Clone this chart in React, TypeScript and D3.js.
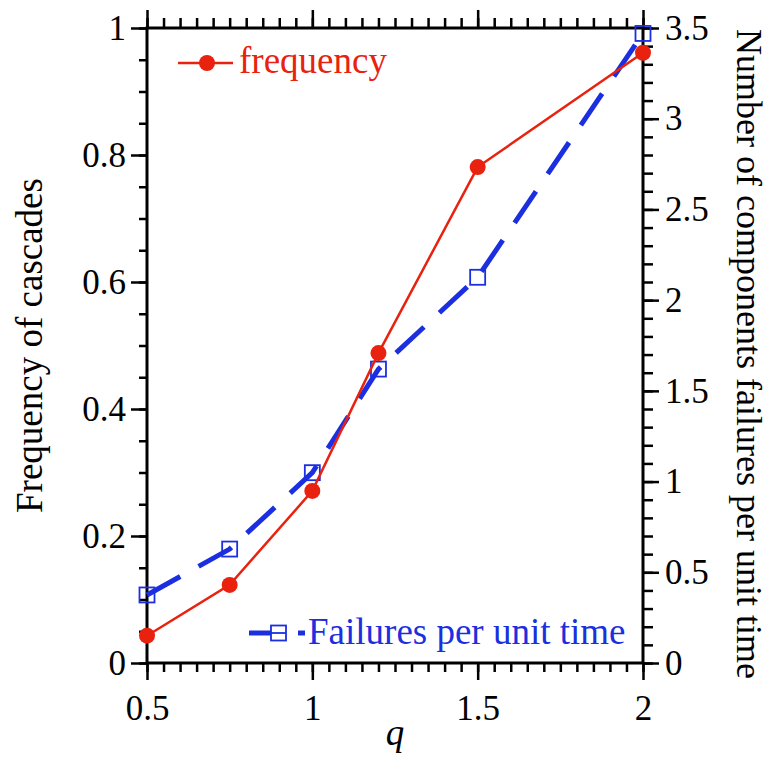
import * as d3 from "d3";
import { useEffect, useRef } from "react";

const qValues = [0.5, 0.75, 1, 1.2, 1.5, 2];
const frequency = [0.043, 0.123, 0.271, 0.488, 0.781, 0.961];
const failures = [0.375, 0.628, 1.049, 1.62, 2.126, 3.47];

const xTicks = [0.5, 1, 1.5, 2];
const leftTicks = [0, 0.2, 0.4, 0.6, 0.8, 1];
const rightTicks = [0, 0.5, 1, 1.5, 2, 2.5, 3, 3.5];

const RED = "#e8220e";
const BLUE = "#1b2fe0";
const FONT = "Liberation Serif";
const TICK_FS = 35;
const LABEL_FS = 37;

const App = () => {
    const chartRef = useRef(null);

    useEffect(() => {
        const svg = d3.select(chartRef.current);
        svg.selectAll("*").remove();
        svg.attr("font-family", FONT);

        const left = 147, right = 643, top = 28, bottom = 663;

        const x = d3.scaleLinear().domain([0.5, 2]).range([left, right]);
        const yL = d3.scaleLinear().domain([0, 1]).range([bottom, top]);
        const yR = d3.scaleLinear().domain([0, 3.5]).range([bottom, top]);

        const minorX = d3.range(0.5, 2.0001, 0.05);
        const minorL = d3.range(0, 1.0001, 0.05);
        const minorR = d3.range(0, 3.5001, 0.1);

        const axisStyle = (g) => {
            g.attr("font-family", FONT).attr("font-size", TICK_FS);
            g.select(".domain").remove();
            g.selectAll("line").attr("stroke", "#000").attr("stroke-width", 2.5);
            g.selectAll("text").attr("fill", "#000");
        };

        // minor ticks
        svg.append("g").attr("transform", `translate(0,${bottom})`)
            .call(d3.axisBottom(x).tickValues(minorX).tickSize(9).tickFormat(() => ""))
            .call(axisStyle);
        svg.append("g").attr("transform", `translate(0,${top})`)
            .call(d3.axisTop(x).tickValues(minorX).tickSize(10).tickFormat(() => ""))
            .call(axisStyle);
        svg.append("g").attr("transform", `translate(${left},0)`)
            .call(d3.axisLeft(yL).tickValues(minorL).tickSize(8).tickFormat(() => ""))
            .call(axisStyle);
        svg.append("g").attr("transform", `translate(${right},0)`)
            .call(d3.axisRight(yR).tickValues(minorR).tickSize(10).tickFormat(() => ""))
            .call(axisStyle);

        // major ticks
        svg.append("g").attr("transform", `translate(0,${bottom})`)
            .call(d3.axisBottom(x).tickValues(xTicks).tickSize(17).tickPadding(15).tickFormat(d3.format("")))
            .call(axisStyle);
        svg.append("g").attr("transform", `translate(0,${top})`)
            .call(d3.axisTop(x).tickValues(xTicks).tickSize(18).tickFormat(() => ""))
            .call(axisStyle);
        svg.append("g").attr("transform", `translate(${left},0)`)
            .call(d3.axisLeft(yL).tickValues(leftTicks).tickSize(16).tickPadding(5).tickFormat(d3.format("")))
            .call(axisStyle);
        svg.append("g").attr("transform", `translate(${right},0)`)
            .call(d3.axisRight(yR).tickValues(rightTicks).tickSize(16).tickPadding(6).tickFormat(d3.format("")))
            .call(axisStyle);

        // frame
        svg.append("rect")
            .attr("x", left).attr("y", top)
            .attr("width", right - left).attr("height", bottom - top)
            .attr("fill", "none").attr("stroke", "#000").attr("stroke-width", 3);

        // failures series (right axis)
        const lineR = d3.line().x((d, i) => x(qValues[i])).y(d => yR(d));
        svg.append("path")
            .datum(failures)
            .attr("d", lineR)
            .attr("fill", "none")
            .attr("stroke", BLUE)
            .attr("stroke-width", 5)
            .attr("stroke-dasharray", "38,21");
        svg.selectAll(".sq")
            .data(failures)
            .enter()
            .append("rect")
            .attr("x", (d, i) => x(qValues[i]) - 7.5)
            .attr("y", d => yR(d) - 7.5)
            .attr("width", 15).attr("height", 15)
            .attr("fill", "none")
            .attr("stroke", BLUE)
            .attr("stroke-width", 1.8);

        // frequency series (left axis)
        const lineL = d3.line().x((d, i) => x(qValues[i])).y(d => yL(d));
        svg.append("path")
            .datum(frequency)
            .attr("d", lineL)
            .attr("fill", "none")
            .attr("stroke", RED)
            .attr("stroke-width", 2.5);
        svg.selectAll(".dot")
            .data(frequency)
            .enter()
            .append("circle")
            .attr("cx", (d, i) => x(qValues[i]))
            .attr("cy", d => yL(d))
            .attr("r", 8)
            .attr("fill", RED);

        // legends
        svg.append("line")
            .attr("x1", 178).attr("x2", 233).attr("y1", 63).attr("y2", 63)
            .attr("stroke", RED).attr("stroke-width", 2.5);
        svg.append("circle").attr("cx", 207).attr("cy", 63).attr("r", 8).attr("fill", RED);
        svg.append("text")
            .attr("x", 239).attr("y", 73)
            .attr("fill", RED)
            .attr("font-size", LABEL_FS)
            .text("frequency");

        svg.append("line")
            .attr("x1", 249).attr("x2", 279).attr("y1", 633).attr("y2", 633)
            .attr("stroke", BLUE).attr("stroke-width", 5);
        svg.append("line")
            .attr("x1", 298).attr("x2", 305).attr("y1", 633).attr("y2", 633)
            .attr("stroke", BLUE).attr("stroke-width", 5);
        svg.append("rect")
            .attr("x", 271).attr("y", 625.5).attr("width", 15).attr("height", 15)
            .attr("fill", "#fff").attr("stroke", BLUE).attr("stroke-width", 1.8);
        svg.append("line")
            .attr("x1", 271).attr("x2", 286).attr("y1", 633).attr("y2", 633)
            .attr("stroke", BLUE).attr("stroke-width", 1.8);
        svg.append("text")
            .attr("x", 308).attr("y", 644)
            .attr("fill", BLUE)
            .attr("font-size", LABEL_FS)
            .text("Failures per unit time");

        // axis titles
        svg.append("text")
            .attr("transform", `translate(42, ${(top + bottom) / 2}) rotate(-90)`)
            .attr("text-anchor", "middle")
            .attr("font-size", LABEL_FS)
            .text("Frequency of cascades");
        svg.append("text")
            .attr("transform", `translate(737, 354) rotate(90)`)
            .attr("text-anchor", "middle")
            .attr("font-size", 36)
            .text("Number of components failures per unit time");
        svg.append("text")
            .attr("x", (left + right) / 2).attr("y", 745)
            .attr("text-anchor", "middle")
            .attr("font-size", LABEL_FS)
            .attr("font-style", "italic")
            .text("q");
    }, []);

    return (
        <svg
            ref={chartRef}
            width={772}
            height={763}
            style={{ position: "absolute", left: 0, top: 0, background: "#fff" }}
        />
    );
};

export default App;
